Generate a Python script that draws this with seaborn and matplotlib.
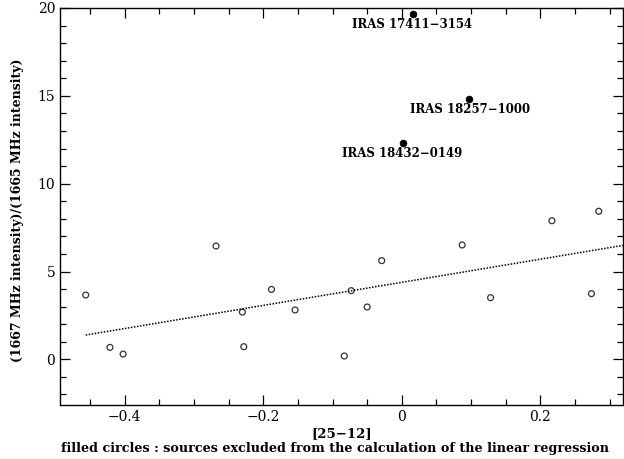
import numpy as np
import pandas as pd
import seaborn as sns
import matplotlib.pyplot as plt
from matplotlib.ticker import MultipleLocator

# open circles : sources used in the linear regression
color_25_12 = [-0.456, -0.421, -0.402, -0.268, -0.230, -0.228, -0.188, -0.154,
               -0.073, -0.083, -0.050, -0.029, 0.087, 0.128, 0.2735, 0.2165, 0.284]
ratio = [3.66, 0.68, 0.30, 6.45, 2.69, 0.72, 3.98, 2.81,
         3.91, 0.19, 2.98, 5.62, 6.51, 3.51, 3.74, 7.89, 8.43]

# filled circles : excluded sources
excl_names = ['IRAS 17411\u22123154', 'IRAS 18257\u22121000', 'IRAS 18432\u22120149']
excl_x = [0.0154, 0.0962, 0.002]
excl_y = [19.68, 14.82, 12.30]

df = pd.DataFrame({'c2512': color_25_12, 'ratio': ratio})
df_ex = pd.DataFrame({'c2512': excl_x, 'ratio': excl_y, 'name': excl_names})

sns.set_style('ticks')
plt.rcParams['font.family'] = ['DejaVu Serif']
plt.rcParams['text.color'] = 'black'
plt.rcParams['axes.labelcolor'] = 'black'
plt.rcParams['xtick.color'] = 'black'
plt.rcParams['ytick.color'] = 'black'
plt.rcParams['axes.edgecolor'] = 'black'

fig = plt.figure(figsize=(6.24, 4.59), dpi=100)
ax = fig.add_axes([0.0962, 0.1176, 0.9022, 0.865])

# fit line drawn from the first source out to the right edge
ax.set_xlim(min(color_25_12), 0.319)
sns.regplot(x='c2512', y='ratio', data=df, ci=None, truncate=False, ax=ax,
            scatter_kws=dict(s=18, facecolors='none', edgecolors='black', linewidths=0.9),
            line_kws=dict(color='black', linestyle=(0, (1, 1)), linewidth=1.1))
sns.scatterplot(x='c2512', y='ratio', data=df_ex, ax=ax, color='black', s=24,
                edgecolor='black', linewidth=0.5)

# source labels
for (_, r), off in zip(df_ex.iterrows(), [(0, -8), (1, -7.5), (-1, -7.5)]):
    ax.annotate(r['name'], (r['c2512'], r['ratio']), xytext=off,
                textcoords='offset points', ha='center', va='center',
                fontsize=8.5, fontweight='bold')

ax.set_xlim(-0.493, 0.319)
ax.set_ylim(-2.6, 20)
ax.xaxis.set_major_locator(MultipleLocator(0.2))
ax.xaxis.set_minor_locator(MultipleLocator(0.05))
ax.yaxis.set_major_locator(MultipleLocator(5))
ax.yaxis.set_minor_locator(MultipleLocator(1))
ax.tick_params(which='both', direction='in', top=True, right=True, width=0.9)
ax.tick_params(which='major', length=7, labelsize=10)
ax.tick_params(which='minor', length=4)
ax.set_xticklabels([f'{v:g}'.replace('-', '\u2212') for v in ax.get_xticks()])
for s in ax.spines.values():
    s.set_linewidth(1.0)

ax.set_xlabel('[25\u221212]', fontsize=9.5, fontweight='bold', labelpad=2)
ax.set_ylabel('(1667 MHz intensity)/(1665 MHz intensity)', fontsize=9,
              fontweight='bold')
ax.yaxis.set_label_coords(-0.064, 0.49)
fig.text(0.537, 0.022, 'filled circles : sources excluded from the calculation of the linear regression',
         ha='center', va='center', fontsize=9.2, fontweight='bold')

fig.savefig('out.png', dpi=100)
